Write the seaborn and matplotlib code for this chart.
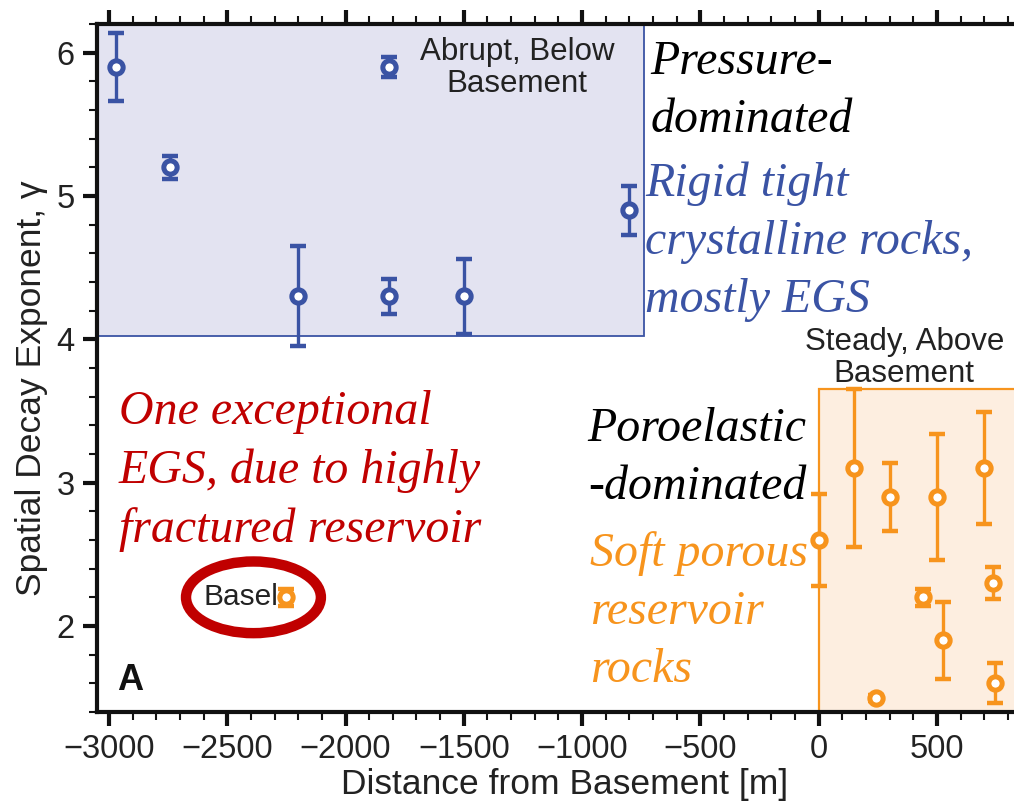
import matplotlib
matplotlib.use("Agg")
import matplotlib.pyplot as plt
from matplotlib.patches import Rectangle, Ellipse
from matplotlib.ticker import MultipleLocator
import pandas as pd
import seaborn as sns

# Injection sites below the crystalline basement: distance [m], decay exponent, error
below_dist = [-2970, -2740, -2200, -1815, -1815, -1500, -800]
below_gamma = [5.9, 5.2, 4.3, 5.9, 4.3, 4.3, 4.9]
below_err = [0.24, 0.08, 0.35, 0.07, 0.12, 0.26, 0.17]

# Injection sites above the basement
above_dist = [0, 150, 240, 300, 440, 500, 525, 700, 735, 745]
above_gamma = [2.6, 3.1, 1.5, 2.9, 2.2, 2.9, 1.9, 3.1, 2.3, 1.6]
above_err = [0.32, 0.55, 0.02, 0.24, 0.06, 0.44, 0.27, 0.39, 0.11, 0.14]

# Basel EGS (exception)
basel_dist = [-2250]
basel_gamma = [2.2]
basel_err = [0.06]

x_ticks = [-3000, -2500, -2000, -1500, -1000, -500, 0, 500]
y_ticks = [2, 3, 4, 5, 6]

BLUE = "#3a53a4"
ORANGE = "#f7941d"
RED = "#c00000"

sns.set_style("ticks")
plt.rcParams["font.family"] = ["Liberation Sans", "DejaVu Sans"]
plt.rcParams["axes.unicode_minus"] = True

fig = plt.figure(figsize=(10.14, 8.10), dpi=100)
ax = fig.add_axes([0.0957, 0.121, 0.9043, 0.8494])
ax.set_xlim(-3050, 825)
ax.set_ylim(1.40, 6.20)

# Regime boxes
ax.add_patch(Rectangle((-3050, 4.02), 3050 - 740, 2.5, facecolor="#e3e3f1",
                       edgecolor=BLUE, linewidth=1.3, zorder=0))
ax.add_patch(Rectangle((0, 1.3), 900, 3.65 - 1.3, facecolor="#fdeee0",
                       edgecolor=ORANGE, linewidth=1.6, zorder=0))

below = pd.DataFrame({"dist": below_dist, "gamma": below_gamma, "err": below_err})
above = pd.DataFrame({"dist": above_dist, "gamma": above_gamma, "err": above_err})
basel = pd.DataFrame({"dist": basel_dist, "gamma": basel_gamma, "err": basel_err})

for df, col in ((below, BLUE), (above, ORANGE), (basel, ORANGE)):
    ax.errorbar(df["dist"], df["gamma"], yerr=df["err"], fmt="none", ecolor=col,
                elinewidth=2.4, capsize=5.5, capthick=3.2, zorder=3)
    sns.scatterplot(data=df, x="dist", y="gamma", ax=ax, marker="o", s=92,
                    facecolor="white", edgecolor=col, linewidth=3.6, zorder=4,
                    legend=False)

# Basel highlight
ax.add_patch(Ellipse((-2389, 2.2), 570, 0.5, facecolor="none", edgecolor=RED,
                     linewidth=7.5, zorder=5))
ax.text(-2282, 2.2, "Basel", ha="right", va="center", fontsize=21.5, color="#222222",
        zorder=6)

# Annotations
ax.text(-1274, 5.723, "Abrupt, Below\nBasement", ha="center", va="baseline",
        fontsize=22.5, linespacing=1.12, color="#222222")
ax.text(361, 3.70, "Steady, Above\nBasement", ha="center", va="baseline",
        fontsize=22.5, linespacing=1.12, color="#222222")

serif = dict(family=["Liberation Serif", "DejaVu Serif"], style="italic", fontsize=34.5)
LS = 1.42
ax.text(-712, 5.444, "Pressure-\ndominated", ha="left", va="baseline", color="black",
        linespacing=LS, **serif)
ax.text(-735, 4.188, "Rigid tight\ncrystalline rocks,\nmostly EGS", ha="left",
        va="baseline", color=BLUE, linespacing=LS, **serif)
ax.text(-2959, 2.583, "One exceptional\nEGS, due to highly\nfractured reservoir",
        ha="left", va="baseline", color=RED, linespacing=LS, **serif)
ax.text(-53, 2.883, "Poroelastic\n-dominated", ha="right", va="baseline",
        multialignment="right", color="black", linespacing=LS, **serif)
ax.text(-966, 1.606, "Soft porous\nreservoir\nrocks", ha="left", va="baseline",
        color=ORANGE, linespacing=LS, **serif)

ax.text(-2965, 1.55, "A", ha="left", va="baseline", fontsize=26, fontweight="bold",
        color="#111111")

# Axes styling
ax.spines["right"].set_visible(False)
for s in ("left", "bottom", "top"):
    ax.spines[s].set_linewidth(3)
    ax.spines[s].set_color("#111111")
ax.set_xticks(x_ticks)
ax.set_yticks(y_ticks)
ax.xaxis.set_minor_locator(MultipleLocator(100))
ax.yaxis.set_minor_locator(MultipleLocator(0.2))
ax.tick_params(which="both", direction="out", top=True, right=False,
               colors="#111111")
ax.tick_params(which="major", length=10, width=3, labelsize=23.5, pad=6)
ax.tick_params(which="minor", length=5.5, width=1.5)
ax.tick_params(axis="x", which="both", labeltop=False)
for lbl in ax.get_xticklabels() + ax.get_yticklabels():
    lbl.set_color("#222222")

ax.set_xlabel("Distance from Basement [m]", fontsize=25.5, color="#222222")
ax.set_ylabel("Spatial Decay Exponent, \u03b3", fontsize=25.5, color="#222222")
ax.xaxis.set_label_coords(0.510, -0.081)
ax.xaxis.label.set_va("top")
ax.yaxis.set_label_coords(-0.054, 0.471)

fig.savefig("out.png", dpi=100)
